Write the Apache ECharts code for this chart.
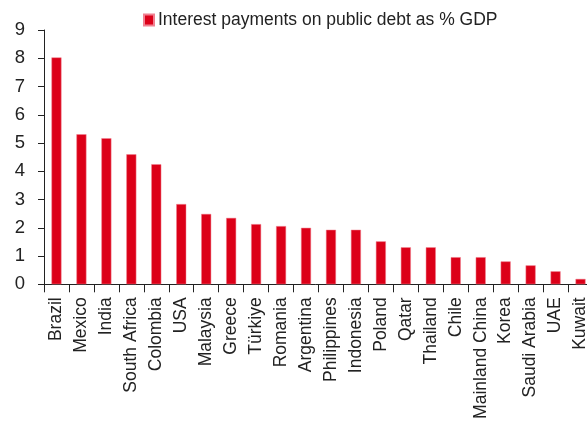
<!DOCTYPE html>
<html>
<head>
<meta charset="utf-8">
<script src="https://cdn.jsdelivr.net/npm/echarts@6/dist/echarts.min.js"></script>
<style>
html,body{margin:0;padding:0;background:#fff;}
#chart{width:587px;height:421px;}
</style>
</head>
<body>
<div id="chart"></div>
<script>
const categories = ["Brazil","Mexico","India","South Africa","Colombia","USA","Malaysia","Greece","Türkiye","Romania","Argentina","Philippines","Indonesia","Poland","Qatar","Thailand","Chile","Mainland China","Korea","Saudi Arabia","UAE","Kuwait"];
const values = [8.03,5.31,5.17,4.60,4.25,2.84,2.49,2.35,2.13,2.06,2.00,1.93,1.93,1.52,1.31,1.31,0.96,0.96,0.81,0.67,0.46,0.19];
const seriesName = "Interest payments on public debt as % GDP";
const yTicks = {min:0, max:9, interval:1};

const chart = echarts.init(document.getElementById('chart'), null, {renderer:'canvas'});
const font = "'Liberation Sans', Arial, sans-serif";
chart.setOption({
  animation:false,
  backgroundColor:'#fff',
  textStyle:{fontFamily:font},
  legend:{
    show:true,
    left:143, top:11, padding:0,
    itemWidth:10, itemHeight:11, itemGap:5,
    icon:'rect',
    textStyle:{fontFamily:font, fontSize:17.5, color:'#222', padding:[0,0,0,-1]},
    data:[seriesName]
  },
  grid:{left:44, top:30, width:549, height:254.3, containLabel:false, outerBoundsMode:'none'},
  xAxis:{
    type:'category',
    data:categories,
    axisLine:{lineStyle:{color:'#222', width:1}},
    axisTick:{show:true, length:8, lineStyle:{color:'#222'}},
    axisLabel:{rotate:90, interval:0, margin:13, fontSize:17.5, color:'#222', fontFamily:font, hideOverlap:false}
  },
  yAxis:{
    type:'value',
    min:yTicks.min, max:yTicks.max, interval:yTicks.interval,
    axisLine:{show:true, lineStyle:{color:'#222', width:1}},
    axisTick:{show:true, length:6, lineStyle:{color:'#222'}},
    splitLine:{show:false},
    axisLabel:{fontSize:18.5, color:'#222', margin:19, fontFamily:font}
  },
  series:[{
    name:seriesName,
    type:'bar',
    data:values,
    barWidth:10,
    itemStyle:{color:'#DC0018', borderColor:'#F08090', borderWidth:0.5}
  }]
});
</script>
</body>
</html>
